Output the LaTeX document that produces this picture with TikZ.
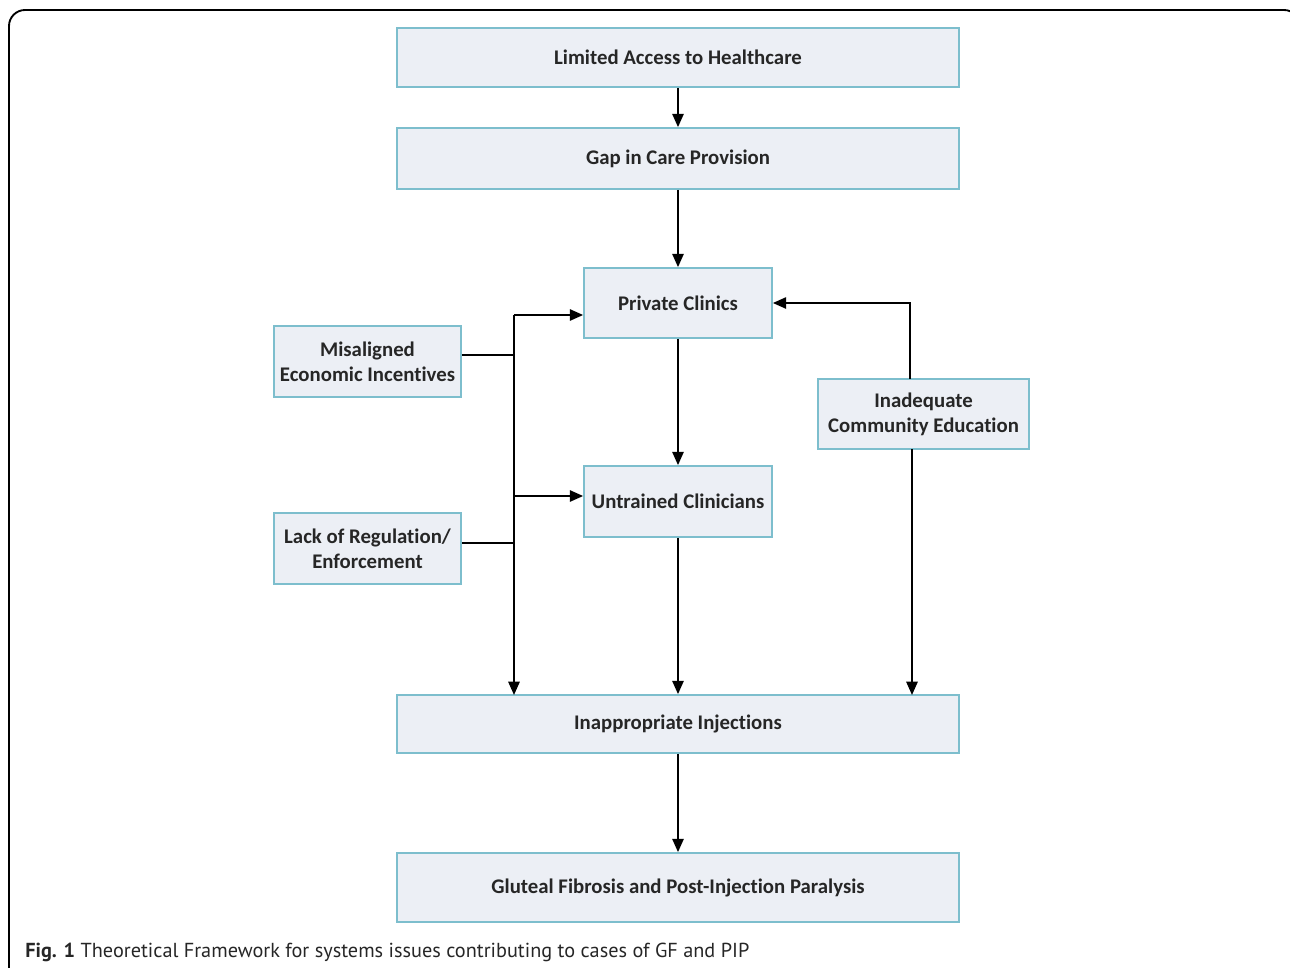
\documentclass[tikz,border=0pt]{standalone}
\usepackage{fontspec}
\setmainfont[RawFeature={-liga;-clig;-dlig;-calt;-rlig}]{Carlito}
\newfontfamily\capfont{PT Sans}
\usetikzlibrary{arrows.meta}
\definecolor{boxfill}{RGB}{236,239,245}
\definecolor{boxline}{RGB}{125,190,205}
\begin{document}
\begin{tikzpicture}[x=0.75pt,y=-0.75pt,
  box/.style={draw=boxline,fill=boxfill,line width=1.3pt,inner sep=0pt,align=center,
    font=\fontsize{15.6}{18.75}\selectfont\bfseries,text=black!85},
  conn/.style={line width=1.4pt,black},
  arr/.style={conn,-{Triangle[length=10pt,width=8.5pt]}}]
\useasboundingbox (0,0) rectangle (1290,968);
\begin{scope}
\clip (0,0) rectangle (1290,968);
\draw[line width=1.4pt,rounded corners=12pt] (9,1000) -- (9,10) -- (1300,10) -- (1300,1000);
\end{scope}
\node[box,minimum width=562*0.75pt,minimum height=59*0.75pt] (lim) at (678,57.5) {Limited Access to Healthcare};
\node[box,minimum width=562*0.75pt,minimum height=61*0.75pt] (gap) at (678,158.5) {Gap in Care Provision};
\node[box,minimum width=188*0.75pt,minimum height=70*0.75pt] (pri) at (678,303) {Private Clinics};
\node[box,minimum width=187*0.75pt,minimum height=71*0.75pt] (mis) at (367.5,361.5) {Misaligned\\Economic Incentives};
\node[box,minimum width=211*0.75pt,minimum height=70*0.75pt] (inad) at (923.5,414) {Inadequate\\Community Education};
\node[box,minimum width=188*0.75pt,minimum height=71*0.75pt] (unt) at (678,501.5) {Untrained Clinicians};
\node[box,minimum width=187*0.75pt,minimum height=71*0.75pt] (lack) at (367.5,548.5) {Lack of Regulation/\\Enforcement};
\node[box,minimum width=562*0.75pt,minimum height=58*0.75pt] (inj) at (678,724) {Inappropriate Injections};
\node[box,minimum width=562*0.75pt,minimum height=69*0.75pt] (glu) at (678,887.5) {Gluteal Fibrosis and Post-Injection Paralysis};
\node[anchor=base west,inner sep=0pt,font=\capfont\fontsize{15.2}{18}\selectfont,text=black!85] (cap) at (25,957) {\textbf{Fig. 1} Theoretical Framework for systems issues contributing to cases of GF and PIP};
% main chain
\draw[arr] (lim) -- (gap);
\draw[arr] (gap) -- (pri);
\draw[arr] (pri) -- (unt);
\draw[arr] (unt) -- (inj);
\draw[arr] (inj) -- (glu);
% left bus
\coordinate (bt) at (514,315);
\coordinate (bm) at (514,496);
\coordinate (bb) at (514,695);
\draw[conn] (mis.east |- 0,355) -- (514,355);
\draw[conn] (lack.east |- 0,543) -- (514,543);
\draw[arr] (bb |- bt) -- (pri.west |- bt);
\draw[arr] (bm) -- (unt.west |- bm);
\draw[arr] (bt) -- (bb);
% right
\draw[arr] (910,379) -- (910,303) -- (pri.east);
\draw[arr] (912,449) -- (912,695);
\end{tikzpicture}
\end{document}
